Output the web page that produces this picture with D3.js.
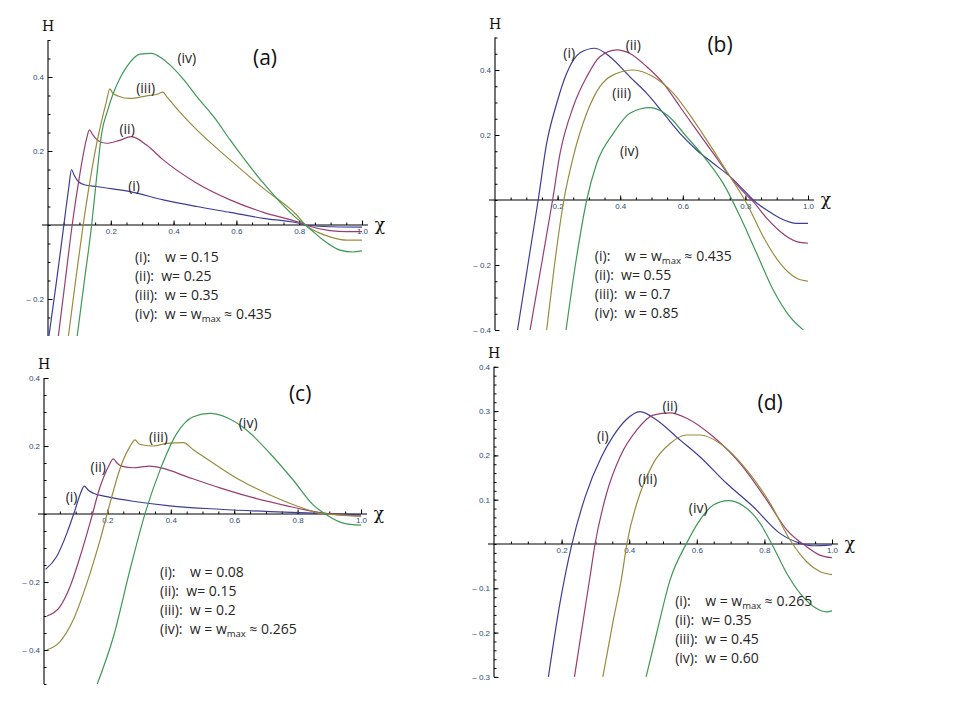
<!DOCTYPE html>
<html>
<head>
<meta charset="utf-8">
<script src="https://cdn.jsdelivr.net/npm/d3@7"></script>
<style>
body { margin: 0; background: #fff; }
svg { display: block; }
.tick text { font-family: "Liberation Sans", Arial, sans-serif; font-size: 8px; fill: #2b4b7e; }
.tick line { stroke: #000; }
.lbl { font-family: "Open Sans", sans-serif; font-size: 14px; fill: #262626; white-space: pre; }
.title { font-family: "Open Sans", sans-serif; font-size: 21px; fill: #111; }
.axname { font-family: "DejaVu Serif", "Liberation Serif", serif; fill: #111; }
</style>
</head>
<body>
<script>
//curve values, [chi, H]
var aI = [[0.003,-0.3],[0.025,-0.165],[0.046,-0.03],[0.066,0.1],[0.075,0.15],[0.083,0.135],[0.097,0.117],[0.118,0.108],[0.155,0.104],[0.21,0.097],[0.261,0.09],[0.367,0.068],[0.474,0.05],[0.58,0.034],[0.686,0.018],[0.792,0.006],[0.82,0],[0.88,-0.004],[1.0,-0.006]];
var aII = [[0.033,-0.3],[0.055,-0.15],[0.077,0],[0.1,0.13],[0.122,0.23],[0.132,0.257],[0.142,0.245],[0.16,0.228],[0.187,0.221],[0.225,0.228],[0.266,0.239],[0.314,0.216],[0.367,0.176],[0.474,0.113],[0.58,0.068],[0.686,0.034],[0.792,0.009],[0.82,0],[0.898,-0.015],[0.95,-0.018],[1.0,-0.018]];
var aIII = [[0.065,-0.3],[0.088,-0.15],[0.112,0],[0.155,0.22],[0.185,0.33],[0.197,0.368],[0.205,0.358],[0.225,0.348],[0.261,0.342],[0.314,0.349],[0.35,0.354],[0.365,0.359],[0.38,0.345],[0.42,0.305],[0.474,0.257],[0.58,0.176],[0.686,0.099],[0.792,0.027],[0.82,0],[0.86,-0.02],[0.898,-0.032],[0.952,-0.041],[1.0,-0.041]];
var aIV = [[0.093,-0.3],[0.116,-0.15],[0.139,0],[0.155,0.13],[0.171,0.248],[0.19,0.31],[0.208,0.356],[0.23,0.398],[0.251,0.428],[0.293,0.462],[0.33,0.464],[0.36,0.452],[0.389,0.432],[0.43,0.395],[0.474,0.347],[0.53,0.29],[0.58,0.23],[0.686,0.113],[0.792,0.018],[0.82,0],[0.85,-0.022],[0.877,-0.041],[0.93,-0.068],[0.97,-0.073],[1.0,-0.07]];

var bI = [[0.072,-0.4],[0.105,-0.2],[0.138,0],[0.165,0.174],[0.197,0.297],[0.229,0.39],[0.272,0.453],[0.319,0.467],[0.367,0.441],[0.431,0.379],[0.485,0.328],[0.538,0.267],[0.591,0.205],[0.644,0.154],[0.697,0.113],[0.751,0.072],[0.804,0.021],[0.825,0],[0.868,-0.031],[0.911,-0.056],[0.964,-0.072],[1.0,-0.072]];
var bII = [[0.112,-0.4],[0.15,-0.19],[0.184,0],[0.208,0.144],[0.25,0.287],[0.293,0.379],[0.335,0.441],[0.389,0.462],[0.431,0.451],[0.485,0.41],[0.538,0.359],[0.591,0.287],[0.644,0.215],[0.697,0.144],[0.751,0.072],[0.804,0.015],[0.825,-0.005],[0.868,-0.056],[0.911,-0.097],[0.964,-0.128],[1.0,-0.133]];
var bIII = [[0.165,-0.4],[0.19,-0.2],[0.22,0],[0.25,0.133],[0.293,0.267],[0.335,0.349],[0.378,0.385],[0.442,0.4],[0.506,0.379],[0.57,0.328],[0.634,0.246],[0.697,0.154],[0.751,0.072],[0.804,-0.01],[0.857,-0.113],[0.911,-0.195],[0.964,-0.241],[1.0,-0.25]];
var bIV = [[0.227,-0.4],[0.26,-0.18],[0.293,0],[0.325,0.113],[0.378,0.205],[0.431,0.267],[0.495,0.284],[0.549,0.262],[0.612,0.195],[0.676,0.123],[0.729,0.051],[0.783,-0.051],[0.836,-0.164],[0.889,-0.277],[0.942,-0.359],[0.985,-0.4]];

var cI = [[0.005,-0.163],[0.04,-0.125],[0.072,-0.057],[0.098,0.012],[0.115,0.06],[0.127,0.082],[0.14,0.07],[0.156,0.061],[0.198,0.051],[0.292,0.036],[0.397,0.024],[0.555,0.014],[0.713,0.007],[0.871,0.002],[1.0,-0.002]];
var cII = [[0.009,-0.3],[0.05,-0.273],[0.082,-0.214],[0.114,-0.125],[0.145,-0.027],[0.177,0.08],[0.203,0.139],[0.219,0.162],[0.23,0.15],[0.245,0.141],[0.282,0.136],[0.334,0.141],[0.376,0.134],[0.45,0.11],[0.555,0.077],[0.66,0.048],[0.766,0.024],[0.871,0.004],[1.0,-0.006]];
var cIII = [[0.009,-0.4],[0.05,-0.376],[0.092,-0.312],[0.135,-0.204],[0.177,-0.076],[0.208,0.031],[0.24,0.134],[0.271,0.198],[0.287,0.218],[0.3,0.206],[0.313,0.203],[0.345,0.2],[0.387,0.208],[0.44,0.21],[0.47,0.19],[0.503,0.169],[0.608,0.105],[0.713,0.056],[0.818,0.017],[0.871,0.002],[1.0,-0.006]];
var cIV = [[0.168,-0.5],[0.219,-0.361],[0.271,-0.165],[0.319,0.002],[0.366,0.129],[0.419,0.237],[0.471,0.286],[0.524,0.296],[0.576,0.284],[0.639,0.247],[0.713,0.178],[0.786,0.1],[0.85,0.026],[0.892,-0.003],[0.944,-0.027],[1.0,-0.033]];

var dI = [[0.161,-0.3],[0.195,-0.134],[0.23,-0.002],[0.27,0.107],[0.318,0.197],[0.353,0.244],[0.39,0.28],[0.432,0.299],[0.481,0.28],[0.55,0.235],[0.609,0.197],[0.688,0.137],[0.767,0.084],[0.846,0.024],[0.905,0.002],[0.945,-0.004],[1.0,-0.002]];
var dII = [[0.238,-0.3],[0.264,-0.172],[0.284,-0.074],[0.299,0],[0.333,0.114],[0.373,0.197],[0.422,0.257],[0.471,0.291],[0.521,0.296],[0.57,0.284],[0.649,0.242],[0.728,0.182],[0.807,0.099],[0.866,0.032],[0.925,-0.006],[0.964,-0.025],[1.0,-0.031]];
var dIII = [[0.322,-0.3],[0.353,-0.172],[0.378,-0.074],[0.393,0],[0.432,0.114],[0.471,0.182],[0.521,0.227],[0.57,0.246],[0.609,0.246],[0.669,0.227],[0.748,0.167],[0.817,0.092],[0.876,0.009],[0.925,-0.04],[0.964,-0.062],[1.0,-0.069]];
var dIV = [[0.45,-0.3],[0.481,-0.202],[0.521,-0.081],[0.57,0.002],[0.609,0.054],[0.649,0.088],[0.693,0.098],[0.738,0.086],[0.787,0.047],[0.826,-0.006],[0.866,-0.066],[0.905,-0.111],[0.945,-0.141],[0.984,-0.153],[1.0,-0.151]];

//tick labels
var xTicks = [0.2, 0.4, 0.6, 0.8, 1.0];
var yTicksA = [-0.2, 0.2, 0.4];
var yTicksB = [-0.4, -0.2, 0.2, 0.4];
var yTicksC = [-0.4, -0.2, 0.2, 0.4];
var yTicksD = [-0.3, -0.2, -0.1, 0.1, 0.2, 0.3, 0.4];

//texts
var curveNames = ["(i)", "(ii)", "(iii)", "(iv)"];
var legendA = ["(i):    w = 0.15", "(ii):  w= 0.25", "(iii):  w = 0.35", "(iv):  w = w_max \u2248 0.435"];
var legendB = ["(i):    w = w_max \u2248 0.435", "(ii):  w= 0.55", "(iii):  w = 0.7", "(iv):  w = 0.85"];
var legendC = ["(i):    w = 0.08", "(ii):  w= 0.15", "(iii):  w = 0.2", "(iv):  w = w_max \u2248 0.265"];
var legendD = ["(i):    w = w_max \u2248 0.265", "(ii):  w= 0.35", "(iii):  w = 0.45", "(iv):  w = 0.60"];

var colors = ["#3d3d99", "#993d71", "#998b3d", "#3d9954"];

//panel layout
var panels = [
    {title: "(a)", series: [aI, aII, aIII, aIV], xRange: [48, 362], yDomain: [-0.3, 0.5], yRange: [336, 40],
     yTicks: yTicksA, yMinor: 0.05, legend: legendA, legendAt: [0.277, -0.086], titleAt: [0.691, 0.451],
     namesAt: [[0.274, 0.105], [0.252, 0.259], [0.311, 0.369], [0.442, 0.45]]},
    {title: "(b)", series: [bI, bII, bIII, bIV], xRange: [495, 808], yDomain: [-0.4, 0.5], yRange: [330, 37.5],
     yTicks: yTicksB, yMinor: 0.05, legend: legendB, legendAt: [0.319, -0.174], titleAt: [0.719, 0.477],
     namesAt: [[0.237, 0.451], [0.442, 0.477], [0.405, 0.328], [0.429, 0.149]]},
    {title: "(c)", series: [cI, cII, cIII, cIV], xRange: [44, 361], yDomain: [-0.5, 0.4], yRange: [684, 378],
     yTicks: yTicksC, yMinor: 0.05, legend: legendC, legendAt: [0.366, -0.17], titleAt: [0.808, 0.355],
     namesAt: [[0.087, 0.051], [0.171, 0.137], [0.361, 0.227], [0.644, 0.267]]},
    {title: "(d)", series: [dI, dII, dIII, dIV], xRange: [494, 832], yDomain: [-0.3, 0.4], yRange: [676.9, 366.8],
     yTicks: yTicksD, yMinor: 0.02, legend: legendD, legendAt: [0.536, -0.13], titleAt: [0.817, 0.318],
     namesAt: [[0.322, 0.244], [0.521, 0.312], [0.455, 0.146], [0.604, 0.08]]}
];

var svg = d3.select("body")
    .append("svg")
    .attr("width", 960)
    .attr("height", 720);

function fmt(d) {
    return d < 0 ? "\u2013 " + d3.format(".1f")(-d) : d3.format(".1f")(d);
}

//write text with an optional "max" subscript
function richText(sel, str) {
    var parts = str.split("_max");
    sel.append("tspan").text(parts[0]);
    if (parts.length > 1) {
        sel.append("tspan").attr("dy", 3).style("font-size", "9.5px").text("max");
        sel.append("tspan").attr("dy", -3).text(parts[1]);
    }
}

panels.forEach(function (p, k) {
    var x = d3.scaleLinear().domain([0, 1]).range(p.xRange);
    var y = d3.scaleLinear().domain(p.yDomain).range(p.yRange);
    var g = svg.append("g").attr("class", "panel");

    //minor ticks
    var xMinor = d3.range(0.05, 1.001, 0.05);
    var yMinor = d3.range(Math.ceil(p.yDomain[0] / p.yMinor) * p.yMinor, p.yDomain[1] + 1e-6, p.yMinor);

    g.append("g")
        .attr("transform", "translate(0," + y(0) + ")")
        .call(d3.axisBottom(x).tickValues(xMinor).tickSize(-2.5).tickSizeOuter(0).tickFormat(""))
        .call(function (a) { a.select(".domain").remove(); });
    g.append("g")
        .attr("transform", "translate(" + x(0) + ",0)")
        .call(d3.axisLeft(y).tickValues(yMinor).tickSize(-2.5).tickSizeOuter(0).tickFormat(""))
        .call(function (a) { a.select(".domain").remove(); });

    //major ticks with labels
    g.append("g")
        .attr("transform", "translate(0," + y(0) + ")")
        .call(d3.axisBottom(x).tickValues(xTicks).tickSize(-4.5).tickPadding(3).tickFormat(d3.format(".1f")))
        .call(function (a) { a.select(".domain").remove(); });
    g.append("g")
        .attr("transform", "translate(" + x(0) + ",0)")
        .call(d3.axisLeft(y).tickValues(p.yTicks).tickSize(-4.5).tickPadding(4).tickFormat(fmt))
        .call(function (a) { a.select(".domain").remove(); });

    //axis lines
    g.append("line")
        .attr("x1", x(0) - 6).attr("x2", x(1) + 6)
        .attr("y1", y(0)).attr("y2", y(0))
        .attr("stroke", "#000").attr("stroke-width", 1.1);
    g.append("line")
        .attr("x1", x(0)).attr("x2", x(0))
        .attr("y1", y(p.yDomain[0])).attr("y2", y(p.yDomain[1]))
        .attr("stroke", "#000").attr("stroke-width", 1.1);

    //axis names
    g.append("text")
        .attr("class", "axname")
        .attr("x", x(0))
        .attr("y", y(p.yDomain[1]) - 9)
        .attr("text-anchor", "middle")
        .style("font-size", "14px")
        .text("H");
    g.append("text")
        .attr("class", "axname")
        .attr("x", x(1) + 18)
        .attr("y", y(0) + 5)
        .attr("text-anchor", "middle")
        .style("font-size", "17px")
        .text("\u03c7");

    //curves
    g.append("clipPath")
        .attr("id", "clip" + k)
        .append("rect")
        .attr("x", x(0) - 2)
        .attr("y", y(p.yDomain[1]))
        .attr("width", x(1) - x(0) + 4)
        .attr("height", y(p.yDomain[0]) - y(p.yDomain[1]));

    var line = d3.line()
        .x(function (d) { return x(d[0]); })
        .y(function (d) { return y(d[1]); })
        .curve(d3.curveMonotoneX);

    g.append("g")
        .attr("clip-path", "url(#clip" + k + ")")
        .selectAll("path")
        .data(p.series)
        .enter()
        .append("path")
        .attr("d", line)
        .attr("fill", "none")
        .attr("stroke", function (d, i) { return colors[i]; })
        .attr("stroke-width", 1.2);

    //curve names
    g.selectAll(".name")
        .data(curveNames)
        .enter()
        .append("text")
        .attr("class", "lbl")
        .attr("text-anchor", "middle")
        .attr("x", function (d, i) { return x(p.namesAt[i][0]); })
        .attr("y", function (d, i) { return y(p.namesAt[i][1]); })
        .attr("dy", "0.35em")
        .text(function (d) { return d; });

    //panel title
    g.append("text")
        .attr("class", "title")
        .attr("text-anchor", "middle")
        .attr("x", x(p.titleAt[0]))
        .attr("y", y(p.titleAt[1]))
        .attr("dy", "0.35em")
        .text(p.title);

    //legend block
    p.legend.forEach(function (s, i) {
        var t = g.append("text")
            .attr("class", "lbl")
            .attr("x", x(p.legendAt[0]))
            .attr("y", y(p.legendAt[1]) + i * 19)
            .attr("dy", "0.35em");
        richText(t, s);
    });
});
</script>
</body>
</html>
